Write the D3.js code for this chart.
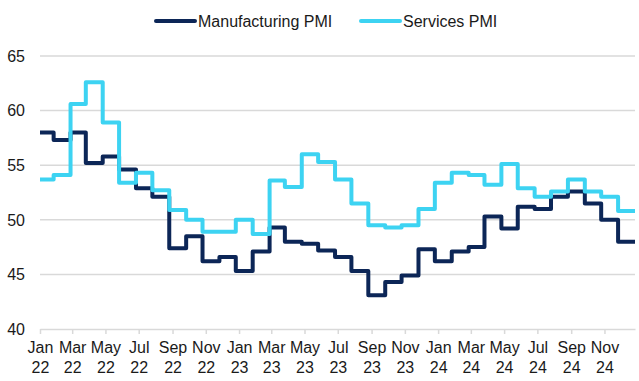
<!DOCTYPE html>
<meta charset="utf-8">
<head>
    <script src="https://d3js.org/d3.v7.min.js"></script>
    <style>
        body { margin: 0; background: #fff; }
        text { font-family: "Liberation Sans", Arial, sans-serif; }
    </style>
</head>
<body>
    <div id="chart"></div>
    <script>

    // monthly PMI readings, Jan 2022 .. Dec 2024
    var manufacturing = [58.0, 57.3, 58.0, 55.2, 55.8, 54.6, 52.9, 52.1, 47.4, 48.5, 46.2, 46.6,
                         45.3, 47.1, 49.3, 48.0, 47.8, 47.2, 46.6, 45.3, 43.1, 44.3, 44.9, 47.3,
                         46.2, 47.1, 47.5, 50.3, 49.2, 51.2, 51.0, 52.1, 52.6, 51.5, 50.0, 48.0]
    var services      = [53.7, 54.1, 60.6, 62.6, 58.9, 53.4, 54.3, 52.7, 50.9, 50.0, 48.9, 48.9,
                         50.0, 48.7, 53.6, 53.0, 56.0, 55.3, 53.7, 51.5, 49.5, 49.3, 49.5, 51.0,
                         53.4, 54.3, 54.1, 53.2, 55.1, 52.9, 52.1, 52.6, 53.7, 52.6, 52.1, 50.8]
    var seriesNames = ["Manufacturing PMI", "Services PMI"]
    var seriesColors = ["#0c2657", "#3dd3f2"]
    var yTicks = [40, 45, 50, 55, 60, 65]

    var firstDay = new Date(2022, 0, 1)
    var lastDay = new Date(2024, 11, 27)
    var releaseDay = 26   // the step happens when the figure is published, late in the month

    var width = 639,
        height = 381,
        margin = {top: 56, right: 4, bottom: 52, left: 40}

    var svg = d3.select("#chart")
                .append("svg")
                .attr("width", width)
                .attr("height", height)

    var x = d3.scaleTime()
              .domain([firstDay, lastDay])
              .range([margin.left, width - margin.right])

    var y = d3.scaleLinear()
              .domain([40, 65])
              .range([height - margin.bottom, margin.top])

    // gridlines
    svg.append("g")
        .selectAll("line")
        .data(yTicks.slice(1))
        .enter()
        .append("line")
        .attr("x1", x.range()[0])
        .attr("x2", x.range()[1])
        .attr("y1", function(d){ return y(d) })
        .attr("y2", function(d){ return y(d) })
        .attr("stroke", "#d9d9d9")
        .attr("stroke-width", 1.5)

    // y labels
    svg.append("g")
        .selectAll("text")
        .data(yTicks)
        .enter()
        .append("text")
        .attr("x", 25)
        .attr("y", function(d){ return y(d) })
        .attr("dy", "0.36em")
        .attr("text-anchor", "end")
        .style("font-size", "16px")
        .attr("fill", "#1a1a1a")
        .text(function(d){ return d })

    // x axis
    var tickDates = d3.timeMonth.every(2).range(firstDay, lastDay)
    var xAxis = svg.append("g")
        .attr("transform", "translate(0," + y(40) + ")")
        .call(d3.axisBottom(x).tickValues(tickDates).tickSize(5).tickSizeOuter(0).tickFormat(""))
    xAxis.select(".domain").attr("stroke", "#d9d9d9").attr("stroke-width", 1.5)
    xAxis.selectAll(".tick line").attr("stroke", "#d9d9d9").attr("stroke-width", 1.5)
    xAxis.selectAll(".tick text").remove()
    xAxis.selectAll(".tick").each(function(d){
        var t = d3.select(this).append("text")
                  .attr("text-anchor", "middle")
                  .attr("fill", "#1a1a1a")
                  .style("font-size", "16px")
        t.append("tspan").attr("x", 0).attr("y", 24).text(d3.timeFormat("%b")(d))
        t.append("tspan").attr("x", 0).attr("y", 44).text(d3.timeFormat("%y")(d))
    })

    // step lines: each value holds from one release date to the next
    function stepPoints(values) {
        var pts = [{date: firstDay, value: values[0]}]
        values.forEach(function(v, i){
            var d = new Date(2022, i, releaseDay)
            if (i == values.length - 1) d = lastDay
            pts.push({date: d, value: v})
        })
        return pts
    }

    var line = d3.line()
                 .curve(d3.curveStepBefore)
                 .x(function(d){ return x(d.date) })
                 .y(function(d){ return y(d.value) })

    var allSeries = [manufacturing, services]
    // services drawn last, on top
    allSeries.forEach(function(vals, i){
        svg.append("path")
            .datum(stepPoints(vals))
            .attr("d", line)
            .attr("fill", "none")
            .attr("stroke", seriesColors[i])
            .attr("stroke-width", 4)
            .attr("stroke-linejoin", "round")
    })

    // legend
    var legendX = [156, 361]
    seriesNames.forEach(function(name, i){
        var g = svg.append("g").attr("transform", "translate(" + legendX[i] + ",21)")
        g.append("line")
            .attr("x1", 0).attr("x2", 39)
            .attr("stroke", seriesColors[i])
            .attr("stroke-width", 4)
            .attr("stroke-linecap", "round")
        g.append("text")
            .attr("x", 42)
            .attr("y", 6)
            .attr("fill", "#1a1a1a")
            .style("font-size", "16px")
            .text(name)
    })
    </script>
</body>
